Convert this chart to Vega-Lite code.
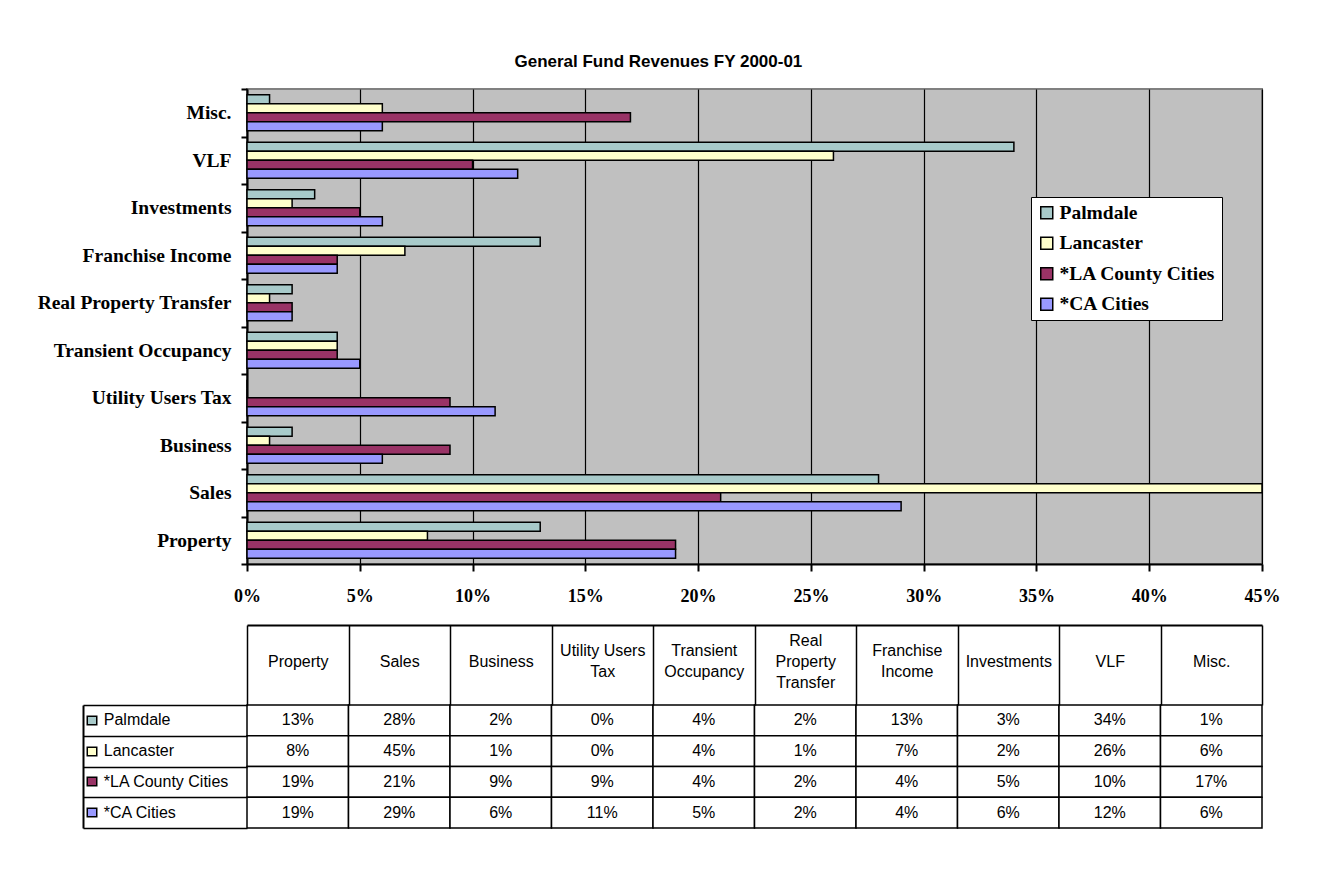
{
  "$schema": "https://vega.github.io/schema/vega-lite/v6.json",
  "background": "white",
  "padding": {"left": 35, "top": 53, "right": 10, "bottom": 10},
  "title": {"text": "General Fund Revenues FY 2000-01", "font": "Liberation Sans", "fontSize": 17, "fontWeight": "bold", "color": "black", "anchor": "middle", "offset": 7},
  "datasets": {
    "rev": [
      {"cat": "Property", "series": "Palmdale", "value": 0.13},
      {"cat": "Property", "series": "Lancaster", "value": 0.08},
      {"cat": "Property", "series": "*LA County Cities", "value": 0.19},
      {"cat": "Property", "series": "*CA Cities", "value": 0.19},
      {"cat": "Sales", "series": "Palmdale", "value": 0.28},
      {"cat": "Sales", "series": "Lancaster", "value": 0.45},
      {"cat": "Sales", "series": "*LA County Cities", "value": 0.21},
      {"cat": "Sales", "series": "*CA Cities", "value": 0.29},
      {"cat": "Business", "series": "Palmdale", "value": 0.02},
      {"cat": "Business", "series": "Lancaster", "value": 0.01},
      {"cat": "Business", "series": "*LA County Cities", "value": 0.09},
      {"cat": "Business", "series": "*CA Cities", "value": 0.06},
      {"cat": "Utility Users Tax", "series": "Palmdale", "value": 0},
      {"cat": "Utility Users Tax", "series": "Lancaster", "value": 0},
      {"cat": "Utility Users Tax", "series": "*LA County Cities", "value": 0.09},
      {"cat": "Utility Users Tax", "series": "*CA Cities", "value": 0.11},
      {"cat": "Transient Occupancy", "series": "Palmdale", "value": 0.04},
      {"cat": "Transient Occupancy", "series": "Lancaster", "value": 0.04},
      {"cat": "Transient Occupancy", "series": "*LA County Cities", "value": 0.04},
      {"cat": "Transient Occupancy", "series": "*CA Cities", "value": 0.05},
      {"cat": "Real Property Transfer", "series": "Palmdale", "value": 0.02},
      {"cat": "Real Property Transfer", "series": "Lancaster", "value": 0.01},
      {"cat": "Real Property Transfer", "series": "*LA County Cities", "value": 0.02},
      {"cat": "Real Property Transfer", "series": "*CA Cities", "value": 0.02},
      {"cat": "Franchise Income", "series": "Palmdale", "value": 0.13},
      {"cat": "Franchise Income", "series": "Lancaster", "value": 0.07},
      {"cat": "Franchise Income", "series": "*LA County Cities", "value": 0.04},
      {"cat": "Franchise Income", "series": "*CA Cities", "value": 0.04},
      {"cat": "Investments", "series": "Palmdale", "value": 0.03},
      {"cat": "Investments", "series": "Lancaster", "value": 0.02},
      {"cat": "Investments", "series": "*LA County Cities", "value": 0.05},
      {"cat": "Investments", "series": "*CA Cities", "value": 0.06},
      {"cat": "VLF", "series": "Palmdale", "value": 0.34},
      {"cat": "VLF", "series": "Lancaster", "value": 0.26},
      {"cat": "VLF", "series": "*LA County Cities", "value": 0.10},
      {"cat": "VLF", "series": "*CA Cities", "value": 0.12},
      {"cat": "Misc.", "series": "Palmdale", "value": 0.01},
      {"cat": "Misc.", "series": "Lancaster", "value": 0.06},
      {"cat": "Misc.", "series": "*LA County Cities", "value": 0.17},
      {"cat": "Misc.", "series": "*CA Cities", "value": 0.06}
    ]
  },
  "vconcat": [
    {
      "width": 1015,
      "height": 475,
      "view": {"fill": "#C0C0C0", "stroke": "#808080", "strokeWidth": 2},
      "data": {"name": "rev"},
      "mark": {"type": "bar", "stroke": "black", "strokeWidth": 1.5},
      "encoding": {
        "y": {
          "field": "cat", "type": "nominal",
          "scale": {"domain": ["Misc.", "VLF", "Investments", "Franchise Income", "Real Property Transfer", "Transient Occupancy", "Utility Users Tax", "Business", "Sales", "Property"], "paddingInner": 0, "paddingOuter": 0},
          "axis": {"title": null, "tickBand": "extent", "tickSize": 6, "tickWidth": 2, "tickColor": "black", "domainColor": "black", "domainWidth": 2, "labelFont": "Liberation Serif", "labelFontWeight": "bold", "labelFontSize": 19.5, "labelColor": "black", "labelPadding": 10, "labelLimit": 400, "grid": false}
        },
        "yOffset": {
          "field": "series", "type": "nominal",
          "scale": {"domain": ["Palmdale", "Lancaster", "*LA County Cities", "*CA Cities"], "paddingInner": 0, "paddingOuter": 0.64}
        },
        "x": {
          "field": "value", "type": "quantitative",
          "scale": {"domain": [0, 0.45], "nice": false, "zero": true},
          "axis": {"title": null, "values": [0, 0.05, 0.1, 0.15, 0.2, 0.25, 0.3, 0.35, 0.4, 0.45], "format": ".0%", "grid": true, "gridColor": "black", "gridWidth": 1.2, "gridOpacity": 1, "domainColor": "black", "domainWidth": 2, "tickColor": "black", "tickSize": 7, "tickWidth": 2, "labelFont": "Liberation Serif", "labelFontWeight": "bold", "labelFontSize": 18, "labelColor": "black", "labelPadding": 16, "labelFlush": false}
        },
        "color": {
          "field": "series", "type": "nominal",
          "scale": {"domain": ["Palmdale", "Lancaster", "*LA County Cities", "*CA Cities"], "range": ["#A8CACA", "#FFFFCC", "#993366", "#9999FF"]},
          "legend": {"orient": "none", "legendX": 784, "legendY": 108, "title": null, "symbolType": "square", "symbolSize": 144, "symbolStrokeColor": "black", "symbolStrokeWidth": 1.5, "symbolOpacity": 1, "labelFont": "Liberation Serif", "labelFontWeight": "bold", "labelFontSize": 19.5, "labelColor": "black", "labelOffset": 3, "labelLimit": 300, "rowPadding": 9.5, "padding": 6, "fillColor": "white", "strokeColor": "black", "cornerRadius": 0}
        }
      }
    },
    {
      "width": 1015,
      "height": 123,
      "view": {"stroke": null},
      "data": {"name": "rev"},
      "layer": [
        {
          "mark": {"type": "rect", "opacity": 0},
          "encoding": {
            "x": {"field": "cat", "type": "nominal",
              "scale": {"domain": ["Property", "Sales", "Business", "Utility Users Tax", "Transient Occupancy", "Real Property Transfer", "Franchise Income", "Investments", "VLF", "Misc."], "paddingInner": 0, "paddingOuter": 0},
              "axis": {"orient": "top", "offset": 80, "title": null, "domain": true, "domainColor": "black", "domainWidth": 2, "ticks": false, "labels": false, "grid": false}},
            "y": {"field": "series", "type": "nominal",
              "scale": {"domain": ["Palmdale", "Lancaster", "*LA County Cities", "*CA Cities"], "paddingInner": 0, "paddingOuter": 0},
              "axis": {"orient": "left", "offset": 164, "title": null, "domain": true, "domainColor": "black", "domainWidth": 2, "ticks": false, "labels": false, "grid": false}}
          }
        },
        {
          "mark": {"type": "rect", "opacity": 0},
          "encoding": {
            "x": {"field": "cat", "type": "nominal", "axis": null},
            "y": {"field": "series", "type": "nominal",
              "axis": {"orient": "left", "offset": 150, "title": null, "domain": false, "ticks": true, "tickColor": "black", "tickSize": 11, "tickWidth": 10, "labels": false, "grid": false, "zindex": 0}}
          }
        },
        {
          "mark": {"type": "rect", "fill": "white", "stroke": "black", "strokeWidth": 1.5},
          "encoding": {
            "x": {"field": "cat", "type": "nominal",
              "axis": {"orient": "top", "title": null, "tickBand": "extent", "ticks": true, "tickColor": "black", "tickSize": 80, "tickWidth": 1.5, "domain": false, "labelAngle": 0, "labelFont": "Liberation Sans", "labelFontSize": 16, "labelColor": "black", "labelBaseline": "top", "labelLineHeight": 21, "grid": false,
                "labelPadding": {"condition": [{"test": "datum.value == 'Real Property Transfer'", "value": -7}, {"test": "datum.value == 'Utility Users Tax' || datum.value == 'Transient Occupancy' || datum.value == 'Franchise Income'", "value": -17.5}], "value": -28},
                "labelExpr": "datum.label == 'Utility Users Tax' ? ['Utility Users', 'Tax'] : datum.label == 'Transient Occupancy' ? ['Transient', 'Occupancy'] : datum.label == 'Real Property Transfer' ? ['Real', 'Property', 'Transfer'] : datum.label == 'Franchise Income' ? ['Franchise', 'Income'] : datum.label"}},
            "y": {"field": "series", "type": "nominal",
              "axis": {"orient": "left", "title": null, "tickBand": "extent", "ticks": true, "tickColor": "black", "tickSize": 164, "tickWidth": 1.5, "domain": false, "labels": false, "grid": false}}
          }
        },
        {
          "mark": {"type": "text", "font": "Liberation Sans", "fontSize": 16, "color": "black"},
          "encoding": {
            "x": {"field": "cat", "type": "nominal", "axis": null},
            "y": {"field": "series", "type": "nominal",
              "axis": {"orient": "left", "offset": 151.5, "title": null, "domain": false, "ticks": true, "tickSize": 8, "tickWidth": 7,
                "tickColor": {"condition": [{"test": "datum.value === 'Palmdale'", "value": "#A8CACA"}, {"test": "datum.value === 'Lancaster'", "value": "#FFFFCC"}, {"test": "datum.value === '*LA County Cities'", "value": "#993366"}], "value": "#9999FF"},
                "labelAlign": "left", "labelPadding": -15.8, "labelFont": "Liberation Sans", "labelFontSize": 16, "labelColor": "black", "labelBaseline": "middle", "labelLimit": 300, "grid": false, "zindex": 1}},
            "text": {"field": "value", "type": "quantitative", "format": ".0%"}
          }
        }
      ],
      "resolve": {"axis": {"x": "independent", "y": "independent"}}
    }
  ],
  "spacing": 141,
  "bounds": "flush",
  "config": {"view": {"stroke": null}}
}
